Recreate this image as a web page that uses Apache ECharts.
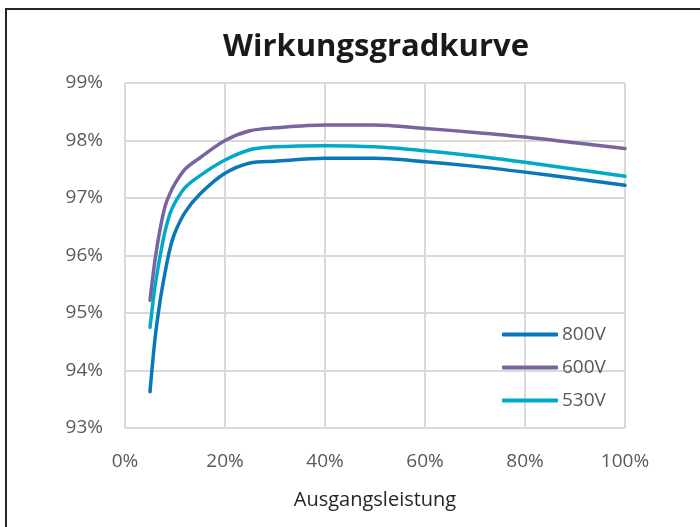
<!DOCTYPE html>
<html>
<head>
<meta charset="utf-8">
<script src="https://cdn.jsdelivr.net/npm/echarts@6/dist/echarts.min.js"></script>
<style>html,body{margin:0;padding:0;background:#fff}#c{width:700px;height:527px}</style>
</head>
<body>
<div id="c"></div>
<script>
var titleText = 'Wirkungsgradkurve';
var xAxisName = 'Ausgangsleistung';
var seriesNames = ['800V', '600V', '530V'];
var loadPct = [5, 6, 7, 8, 9, 10, 12, 15, 20, 25, 30, 40, 50, 60, 70, 80, 90, 100];
var eff800 = [93.63, 94.55, 95.2, 95.7, 96.12, 96.4, 96.75, 97.07, 97.43, 97.61, 97.64, 97.69, 97.69, 97.63, 97.55, 97.45, 97.34, 97.22];
var eff600 = [95.22, 95.92, 96.45, 96.85, 97.08, 97.25, 97.5, 97.7, 98.0, 98.17, 98.22, 98.27, 98.27, 98.21, 98.14, 98.06, 97.96, 97.86];
var eff530 = [94.75, 95.46, 95.98, 96.42, 96.73, 96.92, 97.18, 97.39, 97.66, 97.84, 97.89, 97.91, 97.89, 97.82, 97.73, 97.62, 97.5, 97.38];
var colors = ['#0a77b8', '#7964a0', '#00a9c9'];

function pairs(xs, ys) { return xs.map(function (x, i) { return [x, ys[i]]; }); }
var allSeries = [eff800, eff600, eff530];

var chart = echarts.init(document.getElementById('c'), null, {renderer: 'canvas'});
chart.setOption({
  animation: false,
  backgroundColor: '#fff',
  title: {
    text: titleText, left: 218, top: 27,
    textStyle: {fontFamily: 'Open Sans', fontWeight: 'bold', fontSize: 31, color: '#1a1a1a'}
  },
  grid: {left: 125, right: 75, top: 83, bottom: 99, containLabel: false},
  legend: {
    orient: 'vertical', left: 502, top: 325, itemWidth: 56, itemHeight: 4, itemGap: 14, padding: 0,
    icon: 'roundRect',
    textStyle: {fontFamily: 'Open Sans', fontSize: 19, color: '#595959', padding: [0, 0, 0, -1]},
    data: seriesNames
  },
  xAxis: {
    type: 'value', min: 0, max: 100, interval: 20,
    name: xAxisName, nameLocation: 'middle', nameGap: 62,
    nameTextStyle: {fontFamily: 'Open Sans', fontSize: 20, color: '#262626'},
    axisLine: {show: false}, axisTick: {show: false},
    axisLabel: {formatter: '{value}%', fontFamily: 'Open Sans', fontSize: 19, color: '#595959', margin: 24},
    splitLine: {show: true, lineStyle: {color: '#d9d9d9', width: 2}}
  },
  yAxis: {
    type: 'value', min: 93, max: 99, interval: 1,
    axisLine: {show: false}, axisTick: {show: false},
    axisLabel: {formatter: '{value}%', fontFamily: 'Open Sans', fontSize: 19, color: '#595959', margin: 22},
    splitLine: {show: true, lineStyle: {color: '#d9d9d9', width: 2}}
  },
  graphic: [
    {type: 'line', shape: {x1: 5, y1: 9, x2: 700, y2: 9}, style: {stroke: '#262626', lineWidth: 2}},
    {type: 'line', shape: {x1: 6, y1: 9, x2: 6, y2: 527}, style: {stroke: '#262626', lineWidth: 2}}
  ],
  series: seriesNames.map(function (n, i) {
    return {
      name: n, type: 'line', data: pairs(loadPct, allSeries[i]), smooth: 0.3,
      showSymbol: false, symbol: 'none', color: colors[i],
      lineStyle: {width: 3.5, color: colors[i], cap: 'round'}
    };
  })
});
</script>
</body>
</html>
